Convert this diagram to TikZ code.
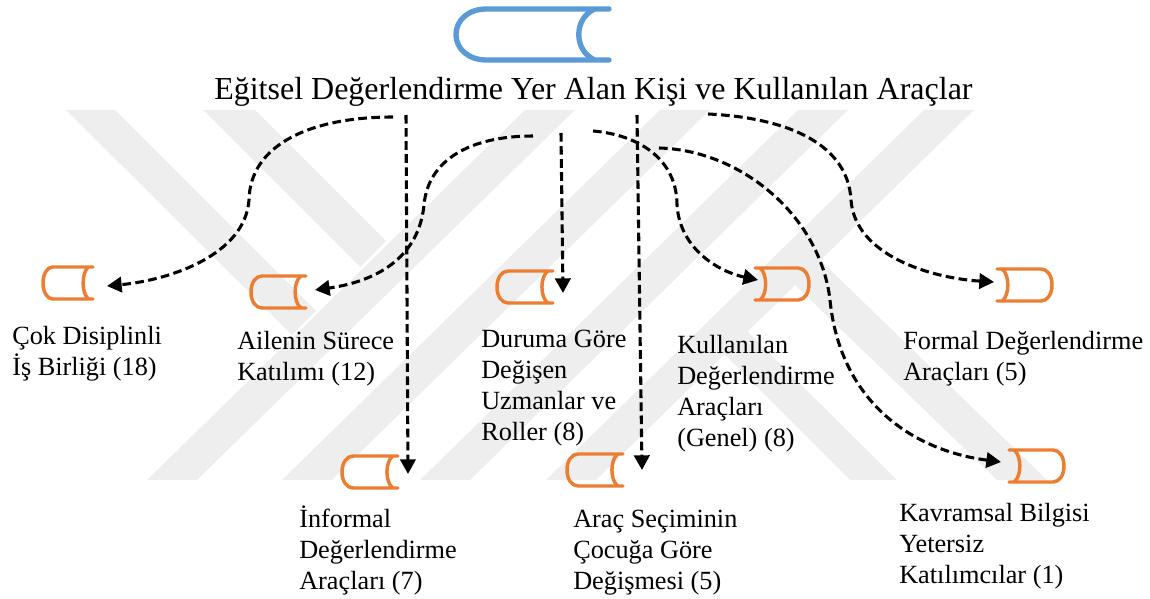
\documentclass[tikz,border=0pt]{standalone}
\usepackage{fontspec}
\setmainfont{Liberation Serif}
\usetikzlibrary{arrows.meta}

\tikzset{
	scrollicon/.pic={
		\draw[line cap=round, line join=round, pic actions] (1,0) -- (0.2,0) .. controls (0.08,0) and (0,0.22) .. (0,0.5) .. controls (0,0.78) and (0.08,1) .. (0.2,1) -- (1,1);
		\draw[line cap=round, pic actions] (0.9,0.01) .. controls (0.77,0.2) and (0.77,0.8) .. (0.9,0.99);
	},
	blueicon/.style={draw=iconblue, line width=4pt},
	orangeicon/.style={draw=iconorange, line width=2.6pt},
	label/.style={inner sep=0pt, anchor=base west, align=left, font=\fontsize{19.7}{23.2}\selectfont},
	dashedarrow/.style={dashed, dash pattern=on 6.5pt off 3.3pt, line width=2.3pt, -{Triangle[length=11pt, width=11.5pt]}},
}
\definecolor{iconblue}{HTML}{5B9BD5}
\definecolor{iconorange}{HTML}{ED7D31}
\definecolor{markgray}{HTML}{EEEEEE}

\begin{document}
\begin{tikzpicture}[x=0.75pt, y=-0.75pt]
	\useasboundingbox (0,0) rectangle (1150,599);

	\foreach \x in {147,282,420,546} {\fill[markgray] (\x,480) -- (\x+50,480) -- (\x+428,110) -- (\x+378,110) -- cycle;}
	\fill[markgray] (66,110) -- (115,110) -- (316,311) -- (292,335) -- cycle;
	\fill[markgray] (203,110) -- (255,110) -- (386,241) -- (360,267) -- cycle;
	\fill[markgray] (850,480) -- (897,480) -- (746,330) -- (723,353) -- cycle;
	\fill[markgray] (997,480) -- (1047,480) -- (818,258) -- (793,283) -- cycle;

	\pic[blueicon, xscale=153, yscale=51] (main) at (456,9) {scrollicon};
	\pic[orangeicon, xscale=50, yscale=32] (cok) at (43,267) {scrollicon};
	\pic[orangeicon, xscale=55, yscale=32] (aile) at (251,276) {scrollicon};
	\pic[orangeicon, xscale=56, yscale=32] (durum) at (497,271) {scrollicon};
	\pic[orangeicon, xscale=56, yscale=32] (inf) at (342,456) {scrollicon};
	\pic[orangeicon, xscale=56, yscale=32] (arac) at (567,454) {scrollicon};
	\pic[orangeicon, xscale=-54, yscale=32] (genel) at (809,268) {scrollicon};
	\pic[orangeicon, xscale=-55, yscale=32] (formal) at (1052,269) {scrollicon};
	\pic[orangeicon, xscale=-55, yscale=32] (kavram) at (1064,450) {scrollicon};

	\node[label, font=\fontsize{24}{27}\selectfont] (title) at (214,100) {Eğitsel Değerlendirme Yer Alan Kişi ve Kullanılan Araçlar};
	\node[label] (coktext) at (12,375) {Çok Disiplinli\\İş Birliği (18)};
	\node[label] (ailetext) at (237,380) {Ailenin Sürece\\Katılımı (12)};
	\node[label] (durumtext) at (481,440) {Duruma Göre\\Değişen\\Uzmanlar ve\\Roller (8)};
	\node[label] (geneltext) at (677,446) {Kullanılan\\Değerlendirme\\Araçları\\(Genel) (8)};
	\node[label] (formaltext) at (903,380) {Formal Değerlendirme\\Araçları (5)};
	\node[label] (inftext) at (299,589) {İnformal\\Değerlendirme\\Araçları (7)};
	\node[label] (aractext) at (573,589) {Araç Seçiminin\\Çocuğa Göre\\Değişmesi (5)};
	\node[label] (kavramtext) at (899,583) {Kavramsal Bilgisi\\Yetersiz\\Katılımcılar (1)};

	\coordinate (a) at (393,117);
	\coordinate (b) at (533,136);
	\coordinate (c) at (593,131);
	\coordinate (d) at (659,148);
	\coordinate (e) at (708,114);
	\coordinate (f) at (406,115);
	\coordinate (g) at (561,133);
	\coordinate (h) at (637,115);
	\coordinate (cokend) at (107,286);
	\coordinate (aileend) at (315,290);
	\coordinate (genelend) at (758,280);
	\coordinate (kavramend) at (1001,462);
	\coordinate (formalend) at (994,282);
	\coordinate (infend) at (408,474);
	\coordinate (durumend) at (563,293);
	\coordinate (aracend) at (642,470);

	\draw[dashedarrow] (a) .. controls (310,117) and (250,145) .. (249,200) .. controls (245,255) and (170,280) .. (cokend);
	\draw[dashedarrow] (b) .. controls (470,136) and (428,160) .. (424,205) .. controls (418,265) and (365,283) .. (aileend);
	\draw[dashedarrow] (c) .. controls (640,135) and (677,160) .. (677,205) .. controls (680,250) and (720,272) .. (genelend);
	\draw[dashedarrow] (d) .. controls (740,150) and (820,215) .. (830,300) .. controls (840,400) and (910,450) .. (kavramend);
	\draw[dashedarrow] (e) .. controls (790,118) and (848,145) .. (851,200) .. controls (855,255) and (930,278) .. (formalend);
	\draw[dashedarrow] (f) -- (infend);
	\draw[dashedarrow] (g) -- (durumend);
	\draw[dashedarrow] (h) -- (aracend);
\end{tikzpicture}
\end{document}
